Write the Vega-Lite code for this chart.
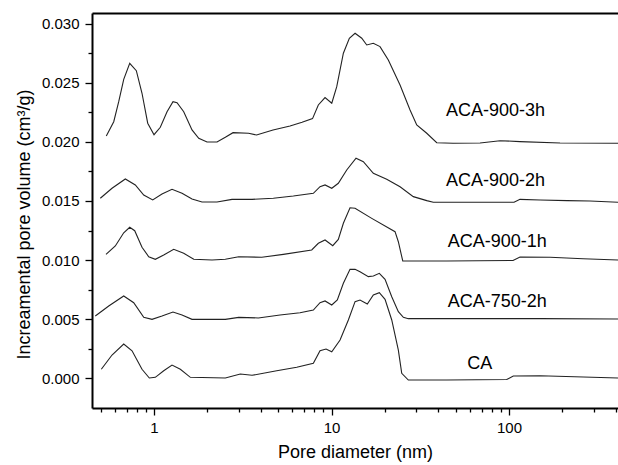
{
  "$schema": "https://vega.github.io/schema/vega-lite/v6.json",
  "autosize": {"type": "none"},
  "padding": {"left": 92, "top": 13, "right": 0, "bottom": 57},
  "width": 526,
  "height": 395,
  "background": "white",
  "config": {
    "view": {"stroke": null},
    "font": "Liberation Sans",
    "axis": {"labelFont": "Liberation Sans", "titleFont": "Liberation Sans", "grid": false}
  },
  "datasets": {
    "curves": [
      {"s":"ACA-900-3h","x":0.5385,"y":0.02051},{"s":"ACA-900-3h","x":0.593,"y":0.02172},{"s":"ACA-900-3h","x":0.6326,"y":0.02342},{"s":"ACA-900-3h","x":0.675,"y":0.02531},{"s":"ACA-900-3h","x":0.7297,"y":0.02667},{"s":"ACA-900-3h","x":0.7949,"y":0.02604},{"s":"ACA-900-3h","x":0.8557,"y":0.02413},{"s":"ACA-900-3h","x":0.9215,"y":0.02159},{"s":"ACA-900-3h","x":1.0,"y":0.02062},{"s":"ACA-900-3h","x":1.085,"y":0.02125},{"s":"ACA-900-3h","x":1.184,"y":0.02257},{"s":"ACA-900-3h","x":1.279,"y":0.02342},{"s":"ACA-900-3h","x":1.348,"y":0.02333},{"s":"ACA-900-3h","x":1.47,"y":0.02257},{"s":"ACA-900-3h","x":1.637,"y":0.02102},{"s":"ACA-900-3h","x":1.786,"y":0.02031},{"s":"ACA-900-3h","x":1.989,"y":0.02},{"s":"ACA-900-3h","x":2.264,"y":0.02},{"s":"ACA-900-3h","x":2.522,"y":0.0204},{"s":"ACA-900-3h","x":2.787,"y":0.02079},{"s":"ACA-900-3h","x":3.408,"y":0.02074},{"s":"ACA-900-3h","x":3.78,"y":0.02059},{"s":"ACA-900-3h","x":4.682,"y":0.02102},{"s":"ACA-900-3h","x":5.837,"y":0.02136},{"s":"ACA-900-3h","x":6.822,"y":0.02167},{"s":"ACA-900-3h","x":7.816,"y":0.02198},{"s":"ACA-900-3h","x":8.426,"y":0.02314},{"s":"ACA-900-3h","x":9.192,"y":0.02376},{"s":"ACA-900-3h","x":10.03,"y":0.02328},{"s":"ACA-900-3h","x":10.7,"y":0.02469},{"s":"ACA-900-3h","x":11.66,"y":0.02752},{"s":"ACA-900-3h","x":12.6,"y":0.02879},{"s":"ACA-900-3h","x":13.57,"y":0.02921},{"s":"ACA-900-3h","x":14.8,"y":0.02879},{"s":"ACA-900-3h","x":15.79,"y":0.02822},{"s":"ACA-900-3h","x":17.2,"y":0.02837},{"s":"ACA-900-3h","x":18.76,"y":0.02808},{"s":"ACA-900-3h","x":20.89,"y":0.02695},{"s":"ACA-900-3h","x":24.32,"y":0.02483},{"s":"ACA-900-3h","x":27.69,"y":0.02271},{"s":"ACA-900-3h","x":30.2,"y":0.02144},{"s":"ACA-900-3h","x":34.39,"y":0.02074},{"s":"ACA-900-3h","x":39.14,"y":0.01994},{"s":"ACA-900-3h","x":48.36,"y":0.01989},{"s":"ACA-900-3h","x":68.65,"y":0.01992},{"s":"ACA-900-3h","x":88.97,"y":0.02011},{"s":"ACA-900-3h","x":115.3,"y":0.02003},{"s":"ACA-900-3h","x":193.8,"y":0.01992},{"s":"ACA-900-3h","x":411,"y":0.01989},

      {"s":"ACA-900-2h","x":0.4983,"y":0.01523},{"s":"ACA-900-2h","x":0.5799,"y":0.01608},{"s":"ACA-900-2h","x":0.6892,"y":0.01687},{"s":"ACA-900-2h","x":0.7845,"y":0.01636},{"s":"ACA-900-2h","x":0.875,"y":0.01551},{"s":"ACA-900-2h","x":0.9833,"y":0.01509},{"s":"ACA-900-2h","x":1.109,"y":0.01559},{"s":"ACA-900-2h","x":1.263,"y":0.01599},{"s":"ACA-900-2h","x":1.438,"y":0.01565},{"s":"ACA-900-2h","x":1.637,"y":0.01517},{"s":"ACA-900-2h","x":1.864,"y":0.01492},{"s":"ACA-900-2h","x":2.264,"y":0.01492},{"s":"ACA-900-2h","x":2.751,"y":0.01514},{"s":"ACA-900-2h","x":3.566,"y":0.01514},{"s":"ACA-900-2h","x":4.7,"y":0.01523},{"s":"ACA-900-2h","x":6.094,"y":0.01542},{"s":"ACA-900-2h","x":7.9,"y":0.01565},{"s":"ACA-900-2h","x":8.613,"y":0.01621},{"s":"ACA-900-2h","x":9.192,"y":0.01636},{"s":"ACA-900-2h","x":10.03,"y":0.01608},{"s":"ACA-900-2h","x":10.92,"y":0.0165},{"s":"ACA-900-2h","x":12.18,"y":0.01763},{"s":"ACA-900-2h","x":13.74,"y":0.01862},{"s":"ACA-900-2h","x":15.11,"y":0.01833},{"s":"ACA-900-2h","x":17.2,"y":0.01735},{"s":"ACA-900-2h","x":20.46,"y":0.01684},{"s":"ACA-900-2h","x":24.32,"y":0.01621},{"s":"ACA-900-2h","x":28.89,"y":0.01537},{"s":"ACA-900-2h","x":34.39,"y":0.01503},{"s":"ACA-900-2h","x":37.45,"y":0.01489},{"s":"ACA-900-2h","x":52.96,"y":0.01489},{"s":"ACA-900-2h","x":106.7,"y":0.01489},{"s":"ACA-900-2h","x":115.3,"y":0.01514},{"s":"ACA-900-2h","x":149.5,"y":0.01509},{"s":"ACA-900-2h","x":212.3,"y":0.01503},{"s":"ACA-900-2h","x":285.9,"y":0.015},{"s":"ACA-900-2h","x":411,"y":0.01489},

      {"s":"ACA-900-1h","x":0.5364,"y":0.01048},{"s":"ACA-900-1h","x":0.6053,"y":0.01119},{"s":"ACA-900-1h","x":0.675,"y":0.01231},{"s":"ACA-900-1h","x":0.7297,"y":0.01277},{"s":"ACA-900-1h","x":0.7785,"y":0.01248},{"s":"ACA-900-1h","x":0.8557,"y":0.01108},{"s":"ACA-900-1h","x":0.9335,"y":0.01028},{"s":"ACA-900-1h","x":1.017,"y":0.01006},{"s":"ACA-900-1h","x":1.134,"y":0.01042},{"s":"ACA-900-1h","x":1.291,"y":0.01091},{"s":"ACA-900-1h","x":1.47,"y":0.01057},{"s":"ACA-900-1h","x":1.674,"y":0.01006},{"s":"ACA-900-1h","x":2.122,"y":0.01},{"s":"ACA-900-1h","x":2.522,"y":0.01006},{"s":"ACA-900-1h","x":3.0,"y":0.01028},{"s":"ACA-900-1h","x":4.045,"y":0.01023},{"s":"ACA-900-1h","x":5.353,"y":0.01048},{"s":"ACA-900-1h","x":7.734,"y":0.01085},{"s":"ACA-900-1h","x":8.426,"y":0.01142},{"s":"ACA-900-1h","x":9.192,"y":0.0117},{"s":"ACA-900-1h","x":10.16,"y":0.01121},{"s":"ACA-900-1h","x":10.92,"y":0.01175},{"s":"ACA-900-1h","x":11.66,"y":0.01311},{"s":"ACA-900-1h","x":12.71,"y":0.01443},{"s":"ACA-900-1h","x":13.57,"y":0.01438},{"s":"ACA-900-1h","x":16.85,"y":0.01353},{"s":"ACA-900-1h","x":22.79,"y":0.0124},{"s":"ACA-900-1h","x":23.79,"y":0.01155},{"s":"ACA-900-1h","x":25.19,"y":0.00992},{"s":"ACA-900-1h","x":44.57,"y":0.00992},{"s":"ACA-900-1h","x":105.3,"y":0.00996},{"s":"ACA-900-1h","x":115.3,"y":0.01025},{"s":"ACA-900-1h","x":170.2,"y":0.01023},{"s":"ACA-900-1h","x":261.2,"y":0.01011},{"s":"ACA-900-1h","x":411,"y":0.01},

      {"s":"ACA-750-2h","x":0.4669,"y":0.00525},{"s":"ACA-750-2h","x":0.5556,"y":0.0061},{"s":"ACA-750-2h","x":0.675,"y":0.00695},{"s":"ACA-750-2h","x":0.7685,"y":0.00638},{"s":"ACA-750-2h","x":0.875,"y":0.00514},{"s":"ACA-750-2h","x":0.9744,"y":0.00497},{"s":"ACA-750-2h","x":1.109,"y":0.00525},{"s":"ACA-750-2h","x":1.279,"y":0.00559},{"s":"ACA-750-2h","x":1.438,"y":0.00534},{"s":"ACA-750-2h","x":1.637,"y":0.00497},{"s":"ACA-750-2h","x":2.522,"y":0.00497},{"s":"ACA-750-2h","x":3.0,"y":0.00514},{"s":"ACA-750-2h","x":3.869,"y":0.00509},{"s":"ACA-750-2h","x":5.128,"y":0.00534},{"s":"ACA-750-2h","x":6.644,"y":0.00553},{"s":"ACA-750-2h","x":7.9,"y":0.00576},{"s":"ACA-750-2h","x":8.613,"y":0.00638},{"s":"ACA-750-2h","x":9.192,"y":0.00653},{"s":"ACA-750-2h","x":10.03,"y":0.00619},{"s":"ACA-750-2h","x":10.78,"y":0.00661},{"s":"ACA-750-2h","x":11.66,"y":0.00803},{"s":"ACA-750-2h","x":12.71,"y":0.00921},{"s":"ACA-750-2h","x":13.57,"y":0.00921},{"s":"ACA-750-2h","x":14.47,"y":0.00901},{"s":"ACA-750-2h","x":16.12,"y":0.00859},{"s":"ACA-750-2h","x":17.2,"y":0.00864},{"s":"ACA-750-2h","x":18.59,"y":0.00887},{"s":"ACA-750-2h","x":20.02,"y":0.00836},{"s":"ACA-750-2h","x":21.84,"y":0.00689},{"s":"ACA-750-2h","x":23.79,"y":0.00562},{"s":"ACA-750-2h","x":25.39,"y":0.00514},{"s":"ACA-750-2h","x":27.08,"y":0.00503},{"s":"ACA-750-2h","x":149.5,"y":0.00503},{"s":"ACA-750-2h","x":411,"y":0.005},

      {"s":"CA","x":0.5048,"y":0.00074},{"s":"CA","x":0.5799,"y":0.00195},{"s":"CA","x":0.675,"y":0.00288},{"s":"CA","x":0.7519,"y":0.00231},{"s":"CA","x":0.8557,"y":0.00074},{"s":"CA","x":0.9409,"y":0.0},{"s":"CA","x":1.017,"y":0.00006},{"s":"CA","x":1.134,"y":0.00062},{"s":"CA","x":1.263,"y":0.0011},{"s":"CA","x":1.407,"y":0.00074},{"s":"CA","x":1.602,"y":0.00006},{"s":"CA","x":2.522,"y":0.0},{"s":"CA","x":3.063,"y":0.00034},{"s":"CA","x":3.566,"y":0.00023},{"s":"CA","x":4.913,"y":0.00062},{"s":"CA","x":6.367,"y":0.00091},{"s":"CA","x":7.9,"y":0.00125},{"s":"CA","x":8.613,"y":0.00231},{"s":"CA","x":9.312,"y":0.00246},{"s":"CA","x":10.03,"y":0.00223},{"s":"CA","x":11.17,"y":0.00322},{"s":"CA","x":12.44,"y":0.00492},{"s":"CA","x":13.57,"y":0.00647},{"s":"CA","x":14.47,"y":0.00661},{"s":"CA","x":15.91,"y":0.00627},{"s":"CA","x":17.2,"y":0.00703},{"s":"CA","x":18.59,"y":0.00723},{"s":"CA","x":20.02,"y":0.00667},{"s":"CA","x":21.84,"y":0.00492},{"s":"CA","x":23.79,"y":0.00237},{"s":"CA","x":24.86,"y":0.0004},{"s":"CA","x":27.08,"y":-0.00017},{"s":"CA","x":44.57,"y":-0.00017},{"s":"CA","x":97.05,"y":-0.00013},{"s":"CA","x":105.7,"y":0.00017},{"s":"CA","x":149.5,"y":0.00019},{"s":"CA","x":411,"y":0.0}
    ],
    "labels": [
      {"label":"ACA-900-3h","x":83.9,"y":0.0222},
      {"label":"ACA-900-2h","x":83.9,"y":0.01627},
      {"label":"ACA-900-1h","x":85.9,"y":0.01113},
      {"label":"ACA-750-2h","x":85.9,"y":0.00604},
      {"label":"CA","x":68.4,"y":0.00074}
    ]
  },
  "layer": [
    {
      "data": {"name": "curves"},
      "mark": {"type": "line", "color": "#222", "strokeWidth": 1.1, "clip": true},
      "encoding": {
        "x": {
          "field": "x", "type": "quantitative",
          "scale": {"type": "log", "domain": [0.4473, 411], "nice": false},
          "axis": {
            "title": "Pore diameter (nm)",
            "values": [0.5,0.6,0.7,0.8,0.9,1,2,3,4,5,6,7,8,9,10,20,30,40,50,60,70,80,90,100,200,300,400],
            "labelExpr": "(datum.value==1||datum.value==10||datum.value==100) ? toString(datum.value) : ''",
            "tickSize": {"condition": {"test": "datum.value==1||datum.value==10||datum.value==100", "value": 7}, "value": 4},
            "tickColor": "black", "tickWidth": 1.3,
            "domainColor": "black", "domainWidth": 2,
            "labelFontSize": 15, "labelColor": "black", "labelPadding": 5,
            "labelFlush": false, "labelOverlap": false,
            "titleFontSize": 18, "titleFontWeight": "normal", "titleColor": "black", "titlePadding": 8
          }
        },
        "y": {
          "field": "y", "type": "quantitative",
          "scale": {"domain": [-0.00254, 0.03093], "nice": false, "zero": false},
          "axis": {
            "title": "Increamental pore volume (cm³/g)",
            "titleY": 211,
            "values": [0,0.0025,0.005,0.0075,0.01,0.0125,0.015,0.0175,0.02,0.0225,0.025,0.0275,0.03],
            "labelExpr": "abs(datum.value*200 - round(datum.value*200)) < 0.000001 ? format(datum.value, '.3f') : ''",
            "tickSize": {"condition": {"test": "abs(datum.value*200 - round(datum.value*200)) < 0.000001", "value": 7}, "value": 4},
            "tickColor": "black", "tickWidth": 1.3,
            "domainColor": "black", "domainWidth": 2,
            "labelFontSize": 15, "labelColor": "black", "labelPadding": 6,
            "labelOverlap": false,
            "titleFontSize": 18, "titleFontWeight": "normal", "titleColor": "black", "titlePadding": 8
          }
        },
        "detail": {"field": "s", "type": "nominal"}
      }
    },
    {
      "data": {"name": "labels"},
      "mark": {"type": "text", "align": "center", "baseline": "alphabetic", "fontSize": 18, "font": "Liberation Sans", "color": "black"},
      "encoding": {
        "x": {
          "field": "x", "type": "quantitative",
          "axis": {"orient": "top", "ticks": false, "labels": false, "title": null, "domainColor": "black", "domainWidth": 2}
        },
        "y": {"field": "y", "type": "quantitative", "axis": null},
        "text": {"field": "label"}
      }
    }
  ],
  "resolve": {"axis": {"x": "independent", "y": "independent"}}
}
